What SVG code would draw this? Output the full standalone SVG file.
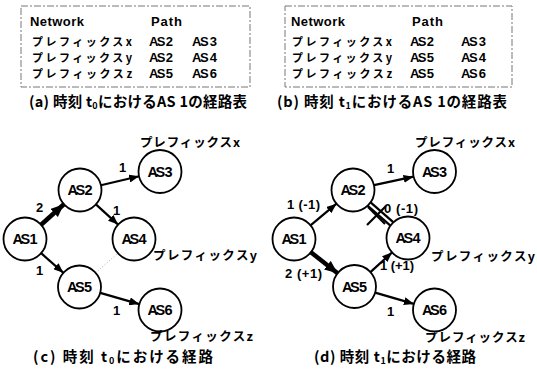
<svg xmlns="http://www.w3.org/2000/svg" width="537" height="369" viewBox="0 0 537 369">
<style>
.bg{fill:#fff}
.box{fill:none;stroke:#777;stroke-width:1;stroke-dasharray:7 2 2 2}
.jp{font-family:"Noto Sans CJK JP","Noto Sans",sans-serif;font-weight:700;fill:#000}
.lat{font-family:"Liberation Sans",Arial,sans-serif;font-weight:700;font-size:13px;fill:#000}
.kt{font-size:11px}
.cap{font-size:14.5px}
.lbl{font-size:12.5px}
.node circle{fill:#fff;stroke:#000;stroke-width:1.8}
.node text{font-family:"Liberation Sans",Arial,sans-serif;font-weight:700;font-size:14.5px;text-anchor:middle;fill:#000}
.e{stroke:#000;stroke-width:2.2;fill:none}
.ek{stroke:#000;stroke-width:4.5;fill:none}
.dot{stroke:#aaa;stroke-width:1;stroke-dasharray:1 2;fill:none}
.el{font-family:"Liberation Sans",Arial,sans-serif;font-weight:700;font-size:13px;fill:#000}
</style>
<defs>
<marker id="ah" markerUnits="userSpaceOnUse" markerWidth="10" markerHeight="8" refX="10" refY="4" orient="auto">
<path d="M0,0 L10,4 L0,8 z" fill="#000"/>
</marker>
<marker id="ahk" markerUnits="userSpaceOnUse" markerWidth="13" markerHeight="11" refX="13" refY="5.5" orient="auto">
<path d="M0,0 L13,5.5 L0,11 z" fill="#000"/>
</marker>
</defs>
<rect class="bg" width="537" height="369"/>

<g id="table-a">
<rect class="box" x="21" y="6" width="229" height="81"/>
<text class="lat"><tspan x="30" y="26" textLength="54">Network</tspan><tspan x="151" y="26" textLength="31">Path</tspan><tspan x="149" y="46" textLength="24">AS 2</tspan><tspan x="192" y="46" textLength="25">AS 3</tspan><tspan x="149" y="62" textLength="24">AS 2</tspan><tspan x="192" y="62" textLength="25">AS 4</tspan><tspan x="149" y="78" textLength="24">AS 5</tspan><tspan x="192" y="78" textLength="25">AS 6</tspan></text>
<text class="jp kt"><tspan x="32" y="46" textLength="100">プレフィックスx</tspan><tspan x="32" y="62" textLength="100">プレフィックスy</tspan><tspan x="32" y="78" textLength="100">プレフィックスz</tspan></text>
<text class="jp cap" x="29" y="107" textLength="218">(a) 時刻 t<tspan font-size="9" dy="2">0</tspan><tspan dy="-2">におけるAS 1の経路表</tspan></text>
</g>

<g id="table-b">
<rect class="box" x="285" y="6" width="227" height="81"/>
<text class="lat"><tspan x="291" y="26" textLength="54">Network</tspan><tspan x="412" y="26" textLength="31">Path</tspan><tspan x="410" y="46" textLength="24">AS 2</tspan><tspan x="461" y="46" textLength="25">AS 3</tspan><tspan x="410" y="62" textLength="24">AS 5</tspan><tspan x="461" y="62" textLength="25">AS 4</tspan><tspan x="410" y="78" textLength="24">AS 5</tspan><tspan x="461" y="78" textLength="25">AS 6</tspan></text>
<text class="jp kt"><tspan x="292" y="46" textLength="100">プレフィックスx</tspan><tspan x="292" y="62" textLength="100">プレフィックスy</tspan><tspan x="292" y="78" textLength="100">プレフィックスz</tspan></text>
<text class="jp cap" x="277" y="107" textLength="230">(b) 時刻 t<tspan font-size="9" dy="2">1</tspan><tspan dy="-2">におけるAS 1の経路表</tspan></text>
</g>

<g id="connectors">
<!-- (c) -->
<line class="ek" x1="41.1" y1="224.7" x2="63.9" y2="204.3" marker-end="url(#ahk)"/>
<line class="e" x1="100.9" y1="185.2" x2="139.1" y2="176.3" marker-end="url(#ah)"/>
<line class="e" x1="95.9" y1="204.4" x2="118.1" y2="224.6" marker-end="url(#ah)"/>
<line class="e" x1="41.1" y1="253.2" x2="63.4" y2="272.8" marker-end="url(#ah)"/>
<line class="e" x1="100.2" y1="292.9" x2="139.3" y2="304.1" marker-end="url(#ah)"/>
<line class="dot" x1="95.6" y1="272.8" x2="117.9" y2="253.2"/>
<!-- (d) -->
<line class="e" x1="310.5" y1="225.3" x2="336.5" y2="203.7" marker-end="url(#ah)"/>
<line class="e" x1="374" y1="185.2" x2="413.5" y2="176.7" marker-end="url(#ah)"/>
<line class="e" x1="370.6" y1="202.4" x2="393.2" y2="222.2" stroke-width="1.6"/>
<line class="e" x1="367.8" y1="205.8" x2="390.4" y2="225.6" stroke-width="1.6"/>
<line class="e" x1="367" y1="225" x2="386" y2="206" stroke-width="2.6"/>
<line class="e" x1="368" y1="207" x2="385" y2="224" stroke-width="2.6"/>
<line class="ek" x1="310.9" y1="252.3" x2="337.6" y2="273.2" marker-end="url(#ahk)"/>
<line class="e" x1="370.4" y1="272.1" x2="392.1" y2="252.4" marker-end="url(#ah)"/>
<line class="e" x1="375.1" y1="292.6" x2="413.9" y2="303.9" marker-end="url(#ah)"/>
<!-- edge labels -->
<text class="el" x="36" y="212">2</text>
<text class="el" x="119" y="172">1</text>
<text class="el" x="113" y="215">1</text>
<text class="el" x="36" y="275">1</text>
<text class="el" x="113" y="315">1</text>
<text class="el" x="287" y="209" textLength="33">1 (-1)</text>
<text class="el" x="387" y="173">1</text>
<text class="el" x="384" y="213" textLength="34">0 (-1)</text>
<text class="el" x="285" y="278" textLength="37">2 (+1)</text>
<text class="el" x="380" y="270" textLength="34">1 (+1)</text>
<text class="el" x="387" y="316">1</text>
</g>

<g id="c-as1" class="node"><circle cx="25" cy="239" r="21.5"/><text x="25" y="244" textLength="25">AS 1</text></g>
<g id="c-as2" class="node"><circle cx="80" cy="190" r="21.5"/><text x="80" y="195" textLength="25">AS 2</text></g>
<g id="c-as3" class="node"><circle cx="160" cy="171.5" r="21.5"/><text x="160" y="176.5" textLength="25">AS 3</text></g>
<g id="c-as4" class="node"><circle cx="134" cy="239" r="21.5"/><text x="134" y="244" textLength="25">AS 4</text></g>
<g id="c-as5" class="node"><circle cx="79.5" cy="287" r="21.5"/><text x="79.5" y="292" textLength="25">AS 5</text></g>
<g id="c-as6" class="node"><circle cx="160" cy="310" r="21.5"/><text x="160" y="315" textLength="25">AS 6</text></g>

<g id="d-as1" class="node"><circle cx="294" cy="239" r="21.5"/><text x="294" y="244" textLength="25">AS 1</text></g>
<g id="d-as2" class="node"><circle cx="353" cy="190" r="21.5"/><text x="353" y="195" textLength="25">AS 2</text></g>
<g id="d-as3" class="node"><circle cx="434.5" cy="171.5" r="21.5"/><text x="434.5" y="176.5" textLength="25">AS 3</text></g>
<g id="d-as4" class="node"><circle cx="408" cy="238" r="21.5"/><text x="408" y="243" textLength="25">AS 4</text></g>
<g id="d-as5" class="node"><circle cx="354.5" cy="286.5" r="21.5"/><text x="354.5" y="291.5" textLength="25">AS 5</text></g>
<g id="d-as6" class="node"><circle cx="434.5" cy="310" r="21.5"/><text x="434.5" y="315" textLength="25">AS 6</text></g>

<g id="prefix-labels">
<text class="jp lbl" x="140" y="147" textLength="100">プレフィックスx</text>
<text class="jp lbl" x="153" y="260" textLength="104">プレフィックスy</text>
<text class="jp lbl" x="150" y="341" textLength="103">プレフィックスz</text>
<text class="jp lbl" x="415" y="147" textLength="100">プレフィックスx</text>
<text class="jp lbl" x="431" y="261" textLength="104">プレフィックスy</text>
<text class="jp lbl" x="425" y="342" textLength="100">プレフィックスz</text>
</g>

<g id="captions">
<text class="jp cap" x="33" y="362" textLength="180">(c) 時刻 t<tspan font-size="9" dy="2">0</tspan><tspan dy="-2">における経路</tspan></text>
<text class="jp cap" x="314" y="362" textLength="162">(d) 時刻 t<tspan font-size="9" dy="2">1</tspan><tspan dy="-2">における経路</tspan></text>
</g>
</svg>
